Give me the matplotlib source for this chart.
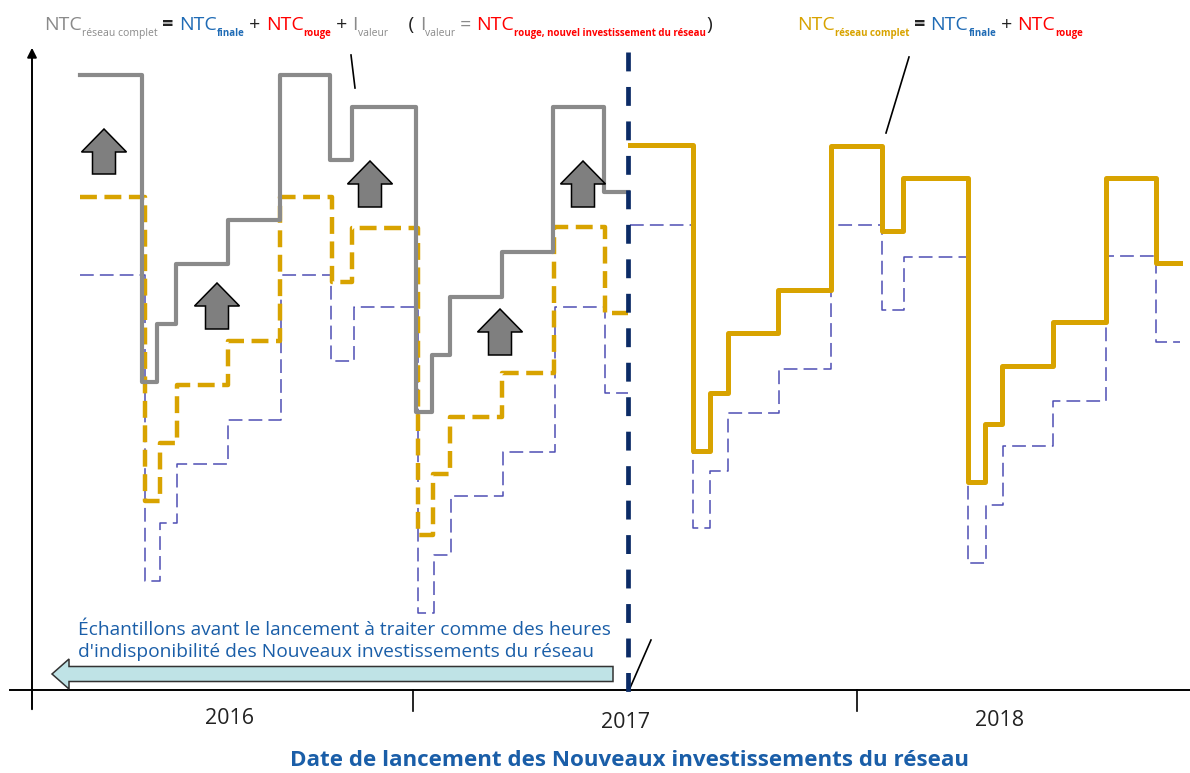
import matplotlib
matplotlib.use("Agg")
import matplotlib.pyplot as plt
from matplotlib.patches import FancyArrow

# picture is laid out in pixel units: x = pixel column, level = height above the time axis
axisY = 690

# 2016 side (before launch): full network, finale + rouge, finale
grayEdges = [80, 142, 157, 176, 228, 280, 330, 352, 416, 432, 450, 502, 553, 604, 628]
grayLevels = [75, 382, 324, 264, 220, 75, 160, 107, 412, 355, 297, 252, 107, 192]

goldDashEdges = [80, 145, 160, 177, 228, 280, 332, 352, 418, 433, 450, 502, 554, 605, 628]
goldDashLevels = [197, 501, 443, 385, 341, 197, 282, 228, 535, 474, 417, 373, 227, 313]

blueLeftEdges = [80, 145, 160, 177, 228, 281, 331, 354, 418, 434, 451, 503, 555, 605, 628]
blueLeftLevels = [275, 581, 523, 464, 420, 275, 361, 307, 613, 555, 496, 452, 307, 393]

# 2017-2018 side (after launch)
goldEdges = [630, 693, 710, 728, 778, 831, 882, 903, 968, 985, 1002, 1053, 1106, 1156, 1180]
goldLevels = [145, 451, 393, 333, 290, 146, 231, 178, 482, 424, 366, 322, 178, 263]

blueRightEdges = [630, 693, 710, 728, 779, 831, 882, 904, 968, 986, 1003, 1053, 1106, 1156, 1180]
blueRightLevels = [225, 528, 471, 413, 369, 225, 310, 257, 563, 505, 446, 401, 256, 342]

# grey "up" arrows (centre x, bottom, tip) in pixel rows
upArrowX = [104, 217, 370, 500, 583]
upArrowBottom = [174, 329, 207, 355, 207]
upArrowTip = [129, 283, 161, 309, 161]

yearLabels = ["2016", "2017", "2018"]
yearX = [230, 626, 1000]
yearY = [719, 723, 720]
tickX = [413, 857]
launchX = 628

GRAY = "#8a8a8a"
GOLD = "#d8a300"
BLUE_LINE = "#4e4eb4"
NAVY = "#0b2b66"
TEXT_BLUE = "#1a5ea8"
FORMULA_BLUE = "#1f6bb5"
RED = "#ff0000"
DARK = "#222222"

FONT = "Open Sans"


def lvl(py):
    return axisY - py


def drawSteps(ax, edges, levels, **kw):
    ys = [lvl(v) for v in levels]
    ax.step(edges, ys + [ys[-1]], where="post", **kw)


def drawRuns(ax, renderer, x0, pyBase, runs):
    # runs: (text, size, colour, weight, isSub)
    x = x0
    for txt, size, color, weight, isSub in runs:
        y = lvl(pyBase + (6 if isSub else 0))
        t = ax.text(x, y, txt, fontsize=size, color=color, fontweight=weight,
                    family=FONT, ha="left", va="baseline")
        bb = t.get_window_extent(renderer=renderer)
        x += bb.width
    return x


fig = plt.figure(figsize=(11.9, 7.73), dpi=100)
ax = fig.add_axes([0, 0, 1, 1])
ax.set_xlim(0, 1190)
ax.set_ylim(axisY - 773, axisY)
ax.axis("off")
renderer = fig.canvas.get_renderer()

# axes
ax.plot([10, 1190], [0, 0], color="black", lw=1.4, zorder=2)
ax.annotate("", xy=(32, lvl(45)), xytext=(32, lvl(712)),
            arrowprops=dict(arrowstyle="-|>", lw=1.4, color="black", mutation_scale=14))
for tx in tickX:
    ax.plot([tx, tx], [0, lvl(711)], color="black", lw=1.2)

# series
drawSteps(ax, blueLeftEdges, blueLeftLevels, color=BLUE_LINE, lw=1.1,
          dashes=(9, 4), zorder=3)
drawSteps(ax, goldDashEdges, goldDashLevels, color=GOLD, lw=3.2,
          dashes=(3.8, 1.7), zorder=4)
drawSteps(ax, grayEdges, grayLevels, color=GRAY, lw=3.0, zorder=5)
drawSteps(ax, blueRightEdges, blueRightLevels, color=BLUE_LINE, lw=1.1,
          dashes=(9, 4), zorder=3)
drawSteps(ax, goldEdges, goldLevels, color=GOLD, lw=3.6, zorder=4)

# launch date line
ax.plot([launchX, launchX], [lvl(52), lvl(701)], color=NAVY, lw=3.4,
        dashes=(4, 3.3), zorder=6)

# grey up arrows
for cx, bottom, tip in zip(upArrowX, upArrowBottom, upArrowTip):
    ax.add_patch(FancyArrow(cx, lvl(bottom), 0, bottom - tip, width=23,
                            head_width=45, head_length=23, length_includes_head=True,
                            facecolor="#7f7f7f", edgecolor="black", lw=1.1, zorder=7))

# light blue arrow for pre-launch samples
ax.add_patch(FancyArrow(613, lvl(674), -561, 0, width=15, head_width=30,
                        head_length=17, length_includes_head=True,
                        facecolor="#bfe3e6", edgecolor="#333333", lw=1.1, zorder=7))
ax.text(78, lvl(657), "Échantillons avant le lancement à traiter comme des heures\n"
        "d'indisponibilité des Nouveaux investissements du réseau",
        fontsize=13.8, color=TEXT_BLUE, family=FONT, ha="left", va="baseline",
        linespacing=1.3, zorder=8)

# leader lines
ax.plot([351, 355], [lvl(55), lvl(88)], color="black", lw=1.2)
ax.plot([909, 886], [lvl(57), lvl(133)], color="black", lw=1.2)
ax.plot([630, 651], [lvl(688), lvl(640)], color="black", lw=1.2)

# year labels
for label, x, y in zip(yearLabels, yearX, yearY):
    ax.text(x, lvl(y), label, fontsize=15.5, color=DARK, family=FONT,
            ha="center", va="center")

ax.text(629, lvl(761), "Date de lancement des Nouveaux investissements du réseau",
        fontsize=16.1, color=TEXT_BLUE, fontweight="bold", family=FONT,
        ha="center", va="center")

# formulas
mainSize = 14
subSize = 7.5
subBold = 7
leftRuns = [
    ("NTC", mainSize, GRAY, "normal", False),
    ("réseau complet", subSize, GRAY, "normal", True),
    (" = ", mainSize, DARK, "bold", False),
    ("NTC", mainSize, FORMULA_BLUE, "normal", False),
    ("finale", subBold, FORMULA_BLUE, "bold", True),
    (" + ", mainSize, DARK, "normal", False),
    ("NTC", mainSize, RED, "normal", False),
    ("rouge", subBold, RED, "bold", True),
    (" + ", mainSize, DARK, "normal", False),
    ("I", mainSize, GRAY, "normal", False),
    ("valeur", subSize, GRAY, "normal", True),
    ("    ( ", mainSize, DARK, "normal", False),
    ("I", mainSize, GRAY, "normal", False),
    ("valeur", subSize, GRAY, "normal", True),
    (" = ", mainSize, GRAY, "normal", False),
    ("NTC", mainSize, RED, "normal", False),
    ("rouge, nouvel investissement du réseau", subBold, RED, "bold", True),
    (")", mainSize, DARK, "normal", False),
]
drawRuns(ax, renderer, 44, 30, leftRuns)

rightRuns = [
    ("NTC", mainSize, GOLD, "normal", False),
    ("réseau complet", subBold, GOLD, "bold", True),
    (" = ", mainSize, DARK, "bold", False),
    ("NTC", mainSize, FORMULA_BLUE, "normal", False),
    ("finale", subBold, FORMULA_BLUE, "bold", True),
    (" + ", mainSize, DARK, "normal", False),
    ("NTC", mainSize, RED, "normal", False),
    ("rouge", subBold, RED, "bold", True),
]
drawRuns(ax, renderer, 797, 30, rightRuns)

fig.savefig("out.png", dpi=100)
